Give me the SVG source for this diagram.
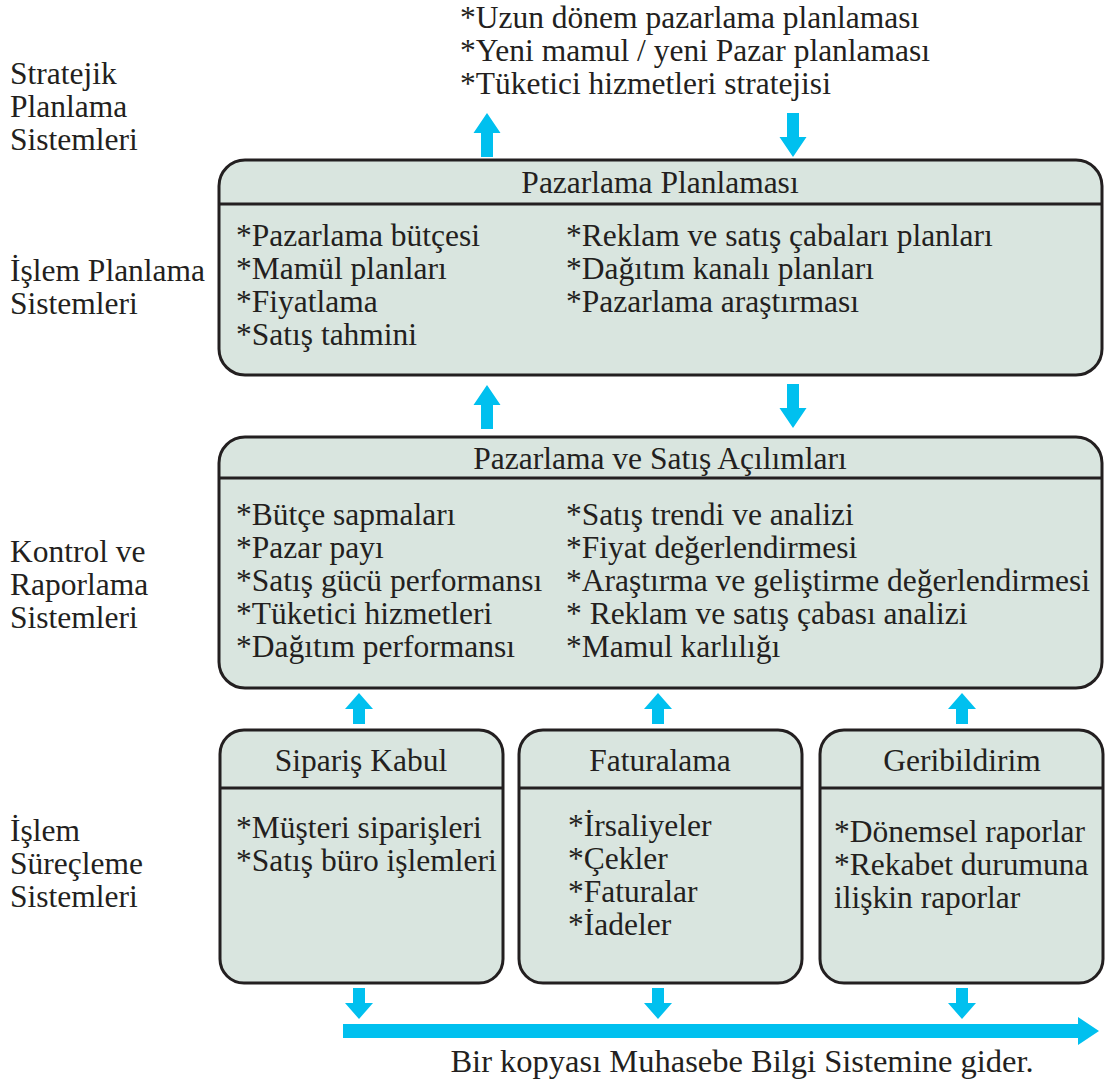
<svg xmlns="http://www.w3.org/2000/svg" width="1105" height="1082" viewBox="0 0 1105 1082">
  <style>
    text { font-family: 'Liberation Serif', 'Times New Roman', serif; font-size: 31.5px; fill: #231f20; }
    .c { text-anchor: middle; }
    .note { font-size: 32.5px; }
    .box { fill: #d9e5df; stroke: #231f20; stroke-width: 3; }
    .div { stroke: #231f20; stroke-width: 3; }
    .arr { fill: #00c0ef; }
  </style>
  <defs>
    <!-- upward block arrows, tip at origin -->
    <path id="up42" d="M0,0 L13.5,20 L6,20 L6,44 L-6,44 L-6,20 L-13.5,20 Z"/>
    <path id="up32" d="M0,0 L14,16 L6,16 L6,31 L-6,31 L-6,16 L-14,16 Z"/>
    <!-- downward block arrows, tip at origin -->
    <path id="dn42" d="M0,0 L13.5,-20 L6,-20 L6,-44 L-6,-44 L-6,-20 L-13.5,-20 Z"/>
    <path id="dn32" d="M0,0 L14,-16 L6,-16 L6,-31 L-6,-31 L-6,-16 L-14,-16 Z"/>
  </defs>

  <!-- level labels -->
  <g id="labels">
    <text x="10" y="84">Stratejik</text>
    <text x="10" y="117">Planlama</text>
    <text x="10" y="150">Sistemleri</text>
    <text x="10" y="281">İşlem Planlama</text>
    <text x="10" y="314">Sistemleri</text>
    <text x="10" y="562">Kontrol ve</text>
    <text x="10" y="595">Raporlama</text>
    <text x="10" y="628">Sistemleri</text>
    <text x="10" y="841">İşlem</text>
    <text x="10" y="874">Süreçleme</text>
    <text x="10" y="907">Sistemleri</text>
  </g>

  <g id="strategic">
    <text x="460" y="28">*Uzun dönem pazarlama planlaması</text>
    <text x="460" y="61">*Yeni mamul / yeni Pazar planlaması</text>
    <text x="460" y="94">*Tüketici hizmetleri stratejisi</text>
  </g>

  <g id="pazarlama-planlamasi">
    <rect class="box" x="219" y="160" width="883" height="215" rx="26"/>
    <line class="div" x1="219" y1="204" x2="1102" y2="204"/>
    <text class="c" x="660" y="193">Pazarlama Planlaması</text>
    <text x="236" y="246">*Pazarlama bütçesi</text>
    <text x="236" y="279">*Mamül planları</text>
    <text x="236" y="312">*Fiyatlama</text>
    <text x="236" y="345">*Satış tahmini</text>
    <text x="566" y="246">*Reklam ve satış çabaları planları</text>
    <text x="566" y="279">*Dağıtım kanalı planları</text>
    <text x="566" y="312">*Pazarlama araştırması</text>
  </g>

  <g id="pazarlama-satis-acilimlari">
    <rect class="box" x="219" y="437" width="883" height="251" rx="26"/>
    <line class="div" x1="219" y1="478" x2="1102" y2="478"/>
    <text class="c" x="660" y="469">Pazarlama ve Satış Açılımları</text>
    <text x="236" y="525">*Bütçe sapmaları</text>
    <text x="236" y="558">*Pazar payı</text>
    <text x="236" y="591">*Satış gücü performansı</text>
    <text x="236" y="624">*Tüketici hizmetleri</text>
    <text x="236" y="657">*Dağıtım performansı</text>
    <text x="566" y="525">*Satış trendi ve analizi</text>
    <text x="566" y="558">*Fiyat değerlendirmesi</text>
    <text x="566" y="591">*Araştırma ve geliştirme değerlendirmesi</text>
    <text x="566" y="624">* Reklam ve satış çabası analizi</text>
    <text x="566" y="657">*Mamul karlılığı</text>
  </g>

  <g id="siparis-kabul">
    <rect class="box" x="220" y="730" width="283" height="253" rx="24"/>
    <line class="div" x1="220" y1="788" x2="503" y2="788"/>
    <text class="c" x="361" y="771">Sipariş Kabul</text>
    <text x="236" y="838">*Müşteri siparişleri</text>
    <text x="236" y="871">*Satış büro işlemleri</text>
  </g>

  <g id="faturalama">
    <rect class="box" x="519" y="730" width="283" height="253" rx="24"/>
    <line class="div" x1="519" y1="788" x2="802" y2="788"/>
    <text class="c" x="660" y="771">Faturalama</text>
    <text x="568" y="836">*İrsaliyeler</text>
    <text x="568" y="869">*Çekler</text>
    <text x="568" y="902">*Faturalar</text>
    <text x="568" y="935">*İadeler</text>
  </g>

  <g id="geribildirim">
    <rect class="box" x="820" y="730" width="283" height="253" rx="24"/>
    <line class="div" x1="820" y1="788" x2="1103" y2="788"/>
    <text class="c" x="962" y="771">Geribildirim</text>
    <text x="834" y="842">*Dönemsel raporlar</text>
    <text x="834" y="875">*Rekabet durumuna</text>
    <text x="834" y="908">ilişkin raporlar</text>
  </g>

  <g id="connectors" class="arr">
    <use href="#up42" x="487" y="113"/>
    <use href="#dn42" x="793" y="157"/>
    <use href="#up42" x="487" y="385"/>
    <use href="#dn42" x="793" y="428"/>
    <use href="#up32" x="359" y="693"/>
    <use href="#up32" x="658" y="693"/>
    <use href="#up32" x="962" y="693"/>
    <use href="#dn32" x="359" y="1019"/>
    <use href="#dn32" x="658" y="1019"/>
    <use href="#dn32" x="962" y="1019"/>
    <path d="M343,1024 L1078,1024 L1078,1017 L1099,1031 L1078,1045 L1078,1038 L343,1038 Z"/>
  </g>

  <text class="c note" x="742" y="1072">Bir kopyası Muhasebe Bilgi Sistemine gider.</text>
</svg>
